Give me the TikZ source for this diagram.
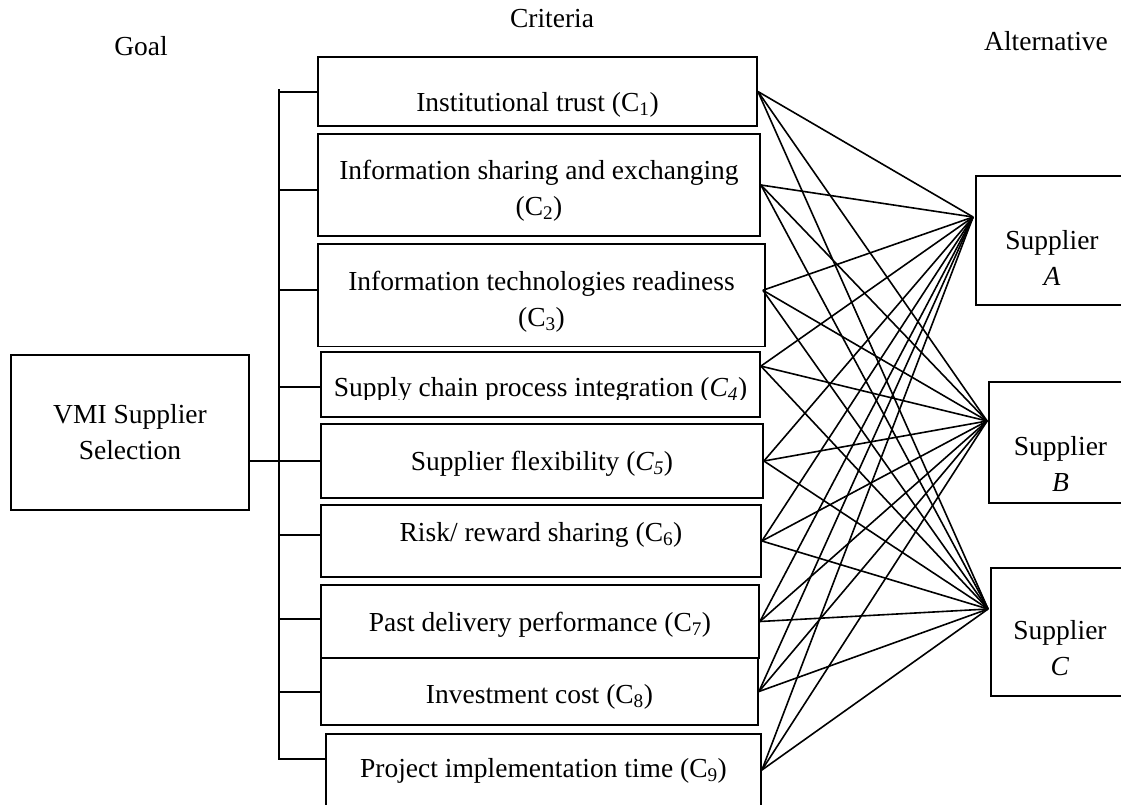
\documentclass[tikz,border=0pt]{standalone}
\usepackage{fontspec}
\setmainfont{Liberation Serif}
\newcommand{\stackpair}[2]{\begin{tabular}[t]{@{}c@{}}#1\\#2\end{tabular}}
\tikzset{
    box/.style={draw, rectangle, line width=1.8pt, inner sep=0pt}, % Plain boxes
    txt/.style={anchor=base, inner sep=0pt, font=\fontsize{27.5}{36}\selectfont}, % Texts
    tick/.style={line width=1.8pt}, % Goal side bus
    link/.style={line width=1.6pt}, % Criteria to alternatives
}
\begin{document}
\begin{tikzpicture}[x=1pt, y=-1pt]
    \path[use as bounding box, fill=white] (0,0) rectangle (1121,804);

    % Headings
    \node[txt] (hgoal) at (141,55) {Goal};
    \node[txt] (hcrit) at (552,27) {Criteria};
    \node[txt] (halt) at (1046,50) {Alternative};

    % Goal
    \node[box, minimum width=238pt, minimum height=155pt] (goal) at (130,432.5) {};
    \node[txt] (tgoal) at (130,423) {\stackpair{VMI Supplier}{Selection}};

    % Criteria
    \node[box, minimum width=439pt, minimum height=69pt] (c1) at (537.5,91.5) {};
    \node[box, minimum width=442pt, minimum height=102pt] (c2) at (539,185) {};
    \node[box, minimum width=447pt, minimum height=102.5pt] (c3) at (541.5,295.25) {};
    \node[box, minimum width=439pt, minimum height=65pt] (c4) at (540.5,384.5) {};
    \node[box, minimum width=442pt, minimum height=74pt] (c5) at (542,461) {};
    \node[box, minimum width=440pt, minimum height=72pt] (c6) at (541,541) {};
    \node[box, minimum width=438pt, minimum height=73pt] (c7) at (540,621.5) {};
    \node[box, minimum width=437pt, minimum height=67pt] (c8) at (539.5,691.5) {};
    \node[box, minimum width=435pt, minimum height=72pt] (c9) at (543.5,770) {};

    \node[txt] (t1) at (537.5,111) {Institutional trust (C\textsubscript{1})};
    \node[txt] (t2) at (539,179.3) {\stackpair{Information sharing and exchanging}{(C\textsubscript{2})}};
    \node[txt] (t3) at (541.5,290) {\stackpair{Information technologies readiness}{(C\textsubscript{3})}};
    \begin{scope}
        \clip (c4.north west) rectangle ([yshift=18.5pt]c4.south east);
        \node[txt] (t4) at (540.5,396.7) {Supply chain process integration (\textit{C\textsubscript{4}})};
    \end{scope}
    \node[txt] (t5) at (542,470) {Supplier flexibility (\textit{C\textsubscript{5}})};
    \node[txt] (t6) at (541,541.5) {Risk/ reward sharing (C\textsubscript{6})};
    \node[txt] (t7) at (540,631) {Past delivery performance (C\textsubscript{7})};
    \node[txt] (t8) at (539.5,703.5) {Investment cost (C\textsubscript{8})};
    \node[txt] (t9) at (543.5,777) {Project implementation time (C\textsubscript{9})};

    % Alternatives
    \node[box, minimum width=152pt, minimum height=129pt] (sA) at (1052,240.5) {};
    \node[box, minimum width=143pt, minimum height=121pt] (sB) at (1060.5,442.5) {};
    \node[box, minimum width=138pt, minimum height=128pt] (sC) at (1060,632) {};
    \node[txt] (tA) at (1052,249.5) {\stackpair{Supplier}{\textit{A}}};
    \node[txt] (tB) at (1060.5,455) {\stackpair{Supplier}{\textit{B}}};
    \node[txt] (tC) at (1060,639.5) {\stackpair{Supplier}{\textit{C}}};

    % Bus from goal to criteria
    \coordinate (bus) at (279,89);
    \coordinate (busend) at (279,759);
    \draw[tick] (bus) -- (busend);
    \draw[tick] (goal.east |- c5.west) -- (c5.west);
    \foreach \c/\dy in {1/-0.5, 2/-5, 3/5, 4/-2.5, 6/6, 7/2.5, 8/-0.5, 9/11}
        \draw[tick] ([yshift=\dy pt]c\c.west) coordinate (tk) -- ([xshift=-1pt]tk -| bus);

    % Link ends
    \coordinate (o1) at (c1.east);
    \coordinate (o2) at (c2.east);
    \coordinate (o3) at ([shift={(-3pt,5pt)}]c3.east);
    \coordinate (o4) at ([yshift=-15pt]c4.north east);
    \coordinate (o5) at (c5.east);
    \coordinate (o6) at (c6.east);
    \coordinate (o7) at (c7.east);
    \coordinate (o8) at (c8.east);
    \coordinate (o9) at (c9.east);
    \coordinate (iA) at ([shift={(-2pt,23.5pt)}]sA.west);
    \coordinate (iB) at ([shift={(-1pt,21.5pt)}]sB.west);
    \coordinate (iC) at ([shift={(-2pt,23pt)}]sC.west);

    % Every criterion to every alternative
    \foreach \c in {1,...,9}
        \foreach \s in {A,B,C}
            \draw[link] (o\c) -- (i\s);
\end{tikzpicture}
\end{document}
